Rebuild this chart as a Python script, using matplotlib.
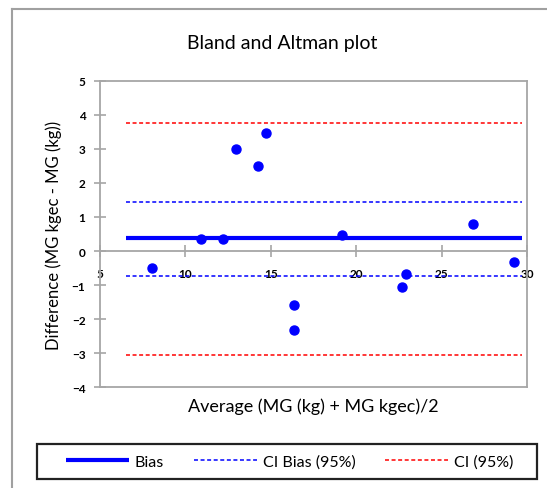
import matplotlib
matplotlib.use("Agg")
import matplotlib.pyplot as plt
from matplotlib.lines import Line2D
from matplotlib.patches import Rectangle

plt.rcParams['font.family'] = ['Lato', 'DejaVu Sans']

# Data
avg = [8.03, 10.9, 12.18, 12.96, 14.27, 14.72, 16.36, 16.36, 19.15, 22.66, 22.92, 26.86, 29.24]
diff = [-0.51, 0.36, 0.36, 2.99, 2.50, 3.46, -1.58, -2.31, 0.47, -1.07, -0.68, 0.79, -0.31]
line_x = [6.52, 29.69]
bias = 0.38
ci_bias = [1.43, -0.72]
ci = [3.75, -3.06]
xticks = [5, 10, 15, 20, 25, 30]
yticks = [-4, -3, -2, -1, 0, 1, 2, 3, 4, 5]

W, H = 547, 489
fig = plt.figure(figsize=(W / 100, H / 100), dpi=100)
ax = fig.add_axes([100 / W, 1 - 388.3 / H, 427 / W, 306.6 / H])

gray = '#A6A6A6'
blue = '#0000FF'
red = '#FF0000'

ax.plot(line_x, [bias, bias], color=blue, lw=3, solid_capstyle='butt', zorder=3, label='Bias')
for v in ci_bias:
    ax.plot(line_x, [v, v], color=blue, lw=1.1, dashes=(2.6, 1.7), zorder=3,
            label='CI Bias (95%)' if v == ci_bias[0] else None)
for v in ci:
    ax.plot(line_x, [v, v], color=red, lw=1.1, dashes=(2.6, 1.7), zorder=3,
            label='CI (95%)' if v == ci[0] else None)
ax.plot(avg, diff, 'o', color=blue, ms=6.5, mec=blue, zorder=4)

ax.set_xlim(5, 30)
ax.set_ylim(-4, 5)
ax.set_xticks(xticks)
ax.set_yticks(yticks)

for s in ['top', 'right', 'left']:
    ax.spines[s].set_color(gray)
    ax.spines[s].set_linewidth(1.3)
ax.spines['bottom'].set_position(('data', 0))
ax.spines['bottom'].set_color(gray)
ax.spines['bottom'].set_linewidth(1.3)
# bottom frame line of plot area
ax.add_artist(Line2D([0, 1], [0, 0], transform=ax.transAxes, color=gray, lw=1.3, clip_on=False))

ax.tick_params(axis='both', direction='inout', length=8, width=1.2, color=gray,
               labelsize=8.5, pad=6.5)
ax.tick_params(axis='x', pad=8.5)
for lab in ax.get_xticklabels() + ax.get_yticklabels():
    lab.set_fontweight('bold')

ax.set_ylabel('Difference (MG kgec - MG (kg))', fontsize=12, labelpad=7)
fig.text(313 / W, 1 - 407 / H, 'Average (MG (kg) + MG kgec)/2', fontsize=13,
         ha='center', va='center')
fig.text(282 / W, 1 - 43 / H, 'Bland and Altman plot', fontsize=14,
         ha='center', va='center')

# legend box
fig.add_artist(Rectangle((37.3 / W, 1 - 480 / H), 499.4 / W, 35 / H, transform=fig.transFigure,
                         fill=False, edgecolor='#222222', lw=1.6))
leg = fig.legend(loc='center left', ncol=3, bbox_to_anchor=(65.7 / W, 1 - 462.5 / H),
                 frameon=False, fontsize=11.5, handlelength=3.95,
                 handletextpad=0.38, columnspacing=1.85, borderaxespad=0, borderpad=0)

# outer chart frame (left and top visible)
fig.add_artist(Line2D([12 / W, 12 / W], [-0.05, 1 - 10 / H], transform=fig.transFigure,
                      color='#A0A0A0', lw=1.5))
fig.add_artist(Line2D([12 / W, 1.05], [1 - 10 / H, 1 - 10 / H], transform=fig.transFigure,
                      color='#A0A0A0', lw=1.5))

fig.savefig('out.png', dpi=100)
